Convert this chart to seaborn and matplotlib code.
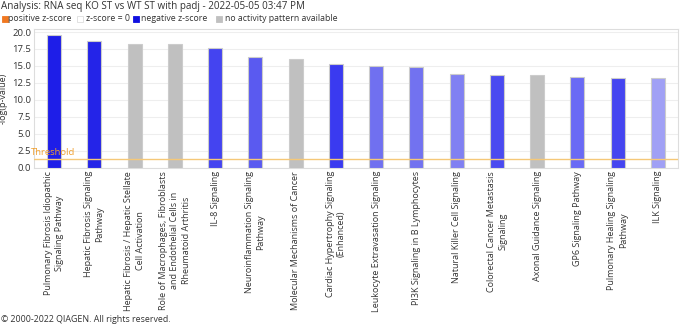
import matplotlib
matplotlib.use("Agg")
import matplotlib.pyplot as plt
import seaborn as sns
import pandas as pd
from matplotlib.patches import Rectangle

pathways = [
    "Pulmonary Fibrosis Idiopathic\nSignaling Pathway",
    "Hepatic Fibrosis Signaling\nPathway",
    "Hepatic Fibrosis / Hepatic Stellate\nCell Activation",
    "Role of Macrophages, Fibroblasts\nand Endothelial Cells in\nRheumatoid Arthritis",
    "IL-8 Signaling",
    "Neuroinflammation Signaling\nPathway",
    "Molecular Mechanisms of Cancer",
    "Cardiac Hypertrophy Signaling\n(Enhanced)",
    "Leukocyte Extravasation Signaling",
    "PI3K Signaling in B Lymphocytes",
    "Natural Killer Cell Signaling",
    "Colorectal Cancer Metastasis\nSignaling",
    "Axonal Guidance Signaling",
    "GP6 Signaling Pathway",
    "Pulmonary Healing Signaling\nPathway",
    "ILK Signaling",
]
neg_log_p = [19.6, 18.7, 18.3, 18.3, 17.7, 16.3, 16.0, 15.35, 15.0, 14.8,
             13.8, 13.6, 13.6, 13.4, 13.2, 13.15]
bar_colors = ["#1E1EE8", "#2424E8", "#C0C0C0", "#C0C0C0", "#4444F0", "#5A5AF0",
              "#C0C0C0", "#3A3AF0", "#7070F0", "#7272F0", "#8080F2", "#4A4AF0",
              "#C0C0C0", "#6A6AF5", "#4545F0", "#A0A0F5"]
threshold = 1.3
y_ticks = [0.0, 2.5, 5.0, 7.5, 10.0, 12.5, 15.0, 17.5, 20.0]

title = "Analysis: RNA seq KO ST vs WT ST with padj - 2022-05-05 03:47 PM"
legend_labels = ["positive z-score", "z-score = 0", "negative z-score", "no activity pattern available"]
legend_colors = ["#F07820", "#FFFFFF", "#1010E0", "#C0C0C0"]
footer = "\u00a9 2000-2022 QIAGEN. All rights reserved."

sns.set_style("white")
plt.rcParams["font.family"] = ["Open Sans", "DejaVu Sans"]

W, H = 685, 327
fig = plt.figure(figsize=(W / 100, H / 100), dpi=100)
ax = fig.add_axes([34 / W, (H - 167.5) / H, (678 - 34) / W, (167.5 - 29) / H])

df = pd.DataFrame({"pathway": pathways, "value": neg_log_p})
sns.barplot(data=df, x="pathway", y="value", hue="pathway", palette=bar_colors,
            saturation=1, legend=False, width=0.35, edgecolor="#CCCCCC",
            linewidth=0.8, ax=ax, zorder=3)

ax.set_ylim(0, 20.45)
ax.set_xlim(-0.5, len(pathways) - 0.5)
ax.set_yticks(y_ticks)
ax.set_yticklabels([f"{t:.1f}" for t in y_ticks], fontsize=6.8, color="#333333")
ax.tick_params(axis="y", length=0, pad=2)
ax.tick_params(axis="x", length=0, pad=2.5)
ax.set_xticks(range(len(pathways)))
ax.set_xticklabels(pathways, rotation=90, fontsize=6.5, color="#333333",
                   ha="center", va="top", multialignment="center",
                   linespacing=1.35)
ax.set_xlabel("")
ax.set_ylabel("-log(p-value)", fontsize=6.5, color="#333333")
ax.yaxis.set_label_coords((7.5 - 34) / (678 - 34), 0.5)
ax.grid(axis="y", color="#EEEEEE", linewidth=0.8, zorder=0)
for s in ["top", "left", "right", "bottom"]:
    ax.spines[s].set_color("#DDDDDD")
    ax.spines[s].set_linewidth(0.8)

ax.axhline(threshold, color="#F5C878", linewidth=1.0, zorder=4)
ax.text(-0.58, threshold + 0.2, "Threshold", color="#F0A030", fontsize=6.8,
        ha="left", va="bottom", zorder=5)

fig.text(1 / W, 1 - 6.5 / H, title, fontsize=7.1, color="#333333", ha="left", va="center")

# legend row
sq_x = [2, 77, 133, 216]
txt_x = [8.5, 86, 141, 225]
for x0, tx, lab, col in zip(sq_x, txt_x, legend_labels, legend_colors):
    fig.patches.append(Rectangle((x0 / W, 1 - 21.5 / H), 6 / W, 6 / H,
                                 transform=fig.transFigure, facecolor=col,
                                 edgecolor="#DDDDDD" if col == "#FFFFFF" else col,
                                 linewidth=0.6))
    fig.text(tx / W, 1 - 18.5 / H, lab, fontsize=6.3, color="#333333",
             ha="left", va="center")

fig.text(1 / W, 1 - 320 / H, footer, fontsize=6.4, color="#333333", ha="left", va="center")

fig.savefig("out.png", dpi=100, facecolor="white")
